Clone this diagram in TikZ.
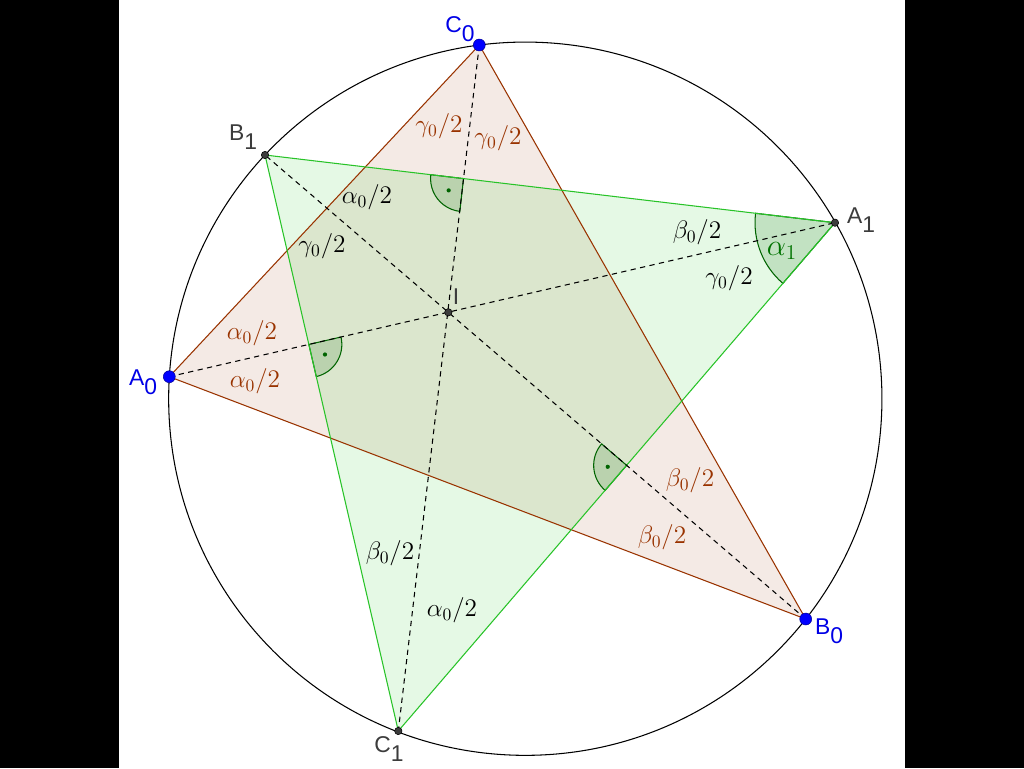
\documentclass[tikz,border=0pt]{standalone}
\usepackage{fontspec}
\newfontfamily\lblfont{Liberation Sans}
\usetikzlibrary{calc}
\definecolor{brn}{RGB}{153,51,0}
\definecolor{grn}{RGB}{0,200,0}
\definecolor{grnline}{RGB}{40,195,40}
\definecolor{dgrn}{RGB}{0,100,0}
\definecolor{agrn}{RGB}{0,115,0}
\definecolor{ptgray}{RGB}{60,60,60}
\definecolor{ptblue}{RGB}{0,0,255}
\definecolor{lblblue}{RGB}{0,0,230}
\newcommand\rmarkdraw[3]{%
  \draw[markst] let \p1=($(#2)-(#1)$), \p2=($(#3)-(#1)$),
    \n1={atan2(\y1,\x1)}, \n2={atan2(\y2,\x2)}, \n3={mod(\n2-\n1+720,360)}
    in (#1) -- ++(\n1:0.66cm) arc[start angle=\n1, delta angle=\n3, radius=0.66cm] -- cycle;
  \fill[dgrn] let \p1=($(#2)-(#1)$), \p2=($(#3)-(#1)$),
    \n1={atan2(\y1,\x1)}, \n2={atan2(\y2,\x2)}, \n3={mod(\n2-\n1+720,360)}
    in ($(#1)+({\n1+\n3/2}:0.38cm)$) circle[radius=1.2pt];
}
\begin{document}
\begin{tikzpicture}[x=0.02cm,y=-0.02cm,
  lbl/.style={font=\fontsize{14}{16}\selectfont, inner sep=0pt},
  bl/.style={lbl, text=brn},
  kl/.style={lbl, text=black},
  markst/.style={draw=dgrn, fill=dgrn, fill opacity=0.15, line width=0.6pt},
  pt/.style={inner sep=0pt, font=\lblfont\fontsize{13}{15}\selectfont},
  bisect/.style={black, line width=0.6pt, dash pattern=on 3pt off 2.5pt}]
\useasboundingbox (0,0) rectangle (1024,768);
\fill[white] (0,0) rectangle (1024,768);
\fill[black] (0,0) rectangle (119,768);
\fill[black] (905,0) rectangle (1024,768);

\coordinate (O) at (525.3,398.7);
\coordinate (C0) at (479.3,45);
\coordinate (A0) at (169.3,376.7);
\coordinate (B0) at (805.7,619);
\coordinate (A1) at (835,222.7);
\coordinate (B1) at (265,155);
\coordinate (C1) at (398.3,731);
\coordinate (I) at (448.3,312.3);

\coordinate (M1) at (intersection of A0--A1 and B1--C1);
\coordinate (M2) at (intersection of C0--C1 and B1--A1);
\coordinate (M3) at (intersection of B0--B1 and A1--C1);

% triangle fills
\fill[brn, fill opacity=0.1] (A0) -- (B0) -- (C0) -- cycle;
\fill[grn, fill opacity=0.1] (A1) -- (B1) -- (C1) -- cycle;

% right-angle marks
\rmarkdraw{M1}{C1}{I}
\rmarkdraw{M2}{B1}{I}
\rmarkdraw{M3}{I}{C1}

% angle alpha1
\draw[markst] let \p1=($(B1)-(A1)$), \p2=($(C1)-(A1)$),
    \n1={atan2(\y1,\x1)}, \n2={atan2(\y2,\x2)}, \n3={mod(\n2-\n1+720,360)}
    in (A1) -- ++(\n1:1.6cm) arc[start angle=\n1, delta angle=\n3, radius=1.6cm] -- cycle;

% triangle sides
\draw[brn, line width=0.6pt] (A0) -- (B0) -- (C0) -- cycle;
\draw[grnline, line width=0.6pt] (A1) -- (B1) -- (C1) -- cycle;

% bisectors
\draw[bisect] (A0) -- (A1);
\draw[bisect] (B0) -- (B1);
\draw[bisect] (C0) -- (C1);

% circumcircle
\draw[black, line width=0.6pt] (O) circle[radius=7.134cm];

% points
\foreach \p in {C0,A0,B0}{
  \fill[ptblue] (\p) circle[radius=3.4pt];
  \draw[blue!60!black, line width=0.3pt] (\p) circle[radius=3.4pt];
}
\foreach \p in {A1,B1,C1,I}{
  \fill[ptgray] (\p) circle[radius=2.1pt];
  \draw[black, line width=0.3pt] (\p) circle[radius=2.1pt];
}

% point labels
\node[pt, text=lblblue] (lC0) at (460,29) {C\raisebox{-0.38em}{0}};
\node[pt, text=lblblue] (lA0) at (143,382) {A\raisebox{-0.38em}{0}};
\node[pt, text=lblblue] (lB0) at (829,631) {B\raisebox{-0.38em}{0}};
\node[pt, text=ptgray] (lB1) at (243,137) {B\raisebox{-0.38em}{1}};
\node[pt, text=ptgray] (lA1) at (861,220) {A\raisebox{-0.38em}{1}};
\node[pt, text=ptgray] (lC1) at (389,749) {C\raisebox{-0.38em}{1}};
\node[pt, text=ptgray] (lI) at (456,297) {I};

% angle labels
\node[bl] (g1) at (439,126) {$\gamma_0/2$};
\node[bl] (g2) at (498,138) {$\gamma_0/2$};
\node[kl] (a1) at (367,197) {$\alpha_0/2$};
\node[kl] (g3) at (322,246) {$\gamma_0/2$};
\node[kl] (b1) at (697,232) {$\beta_0/2$};
\node[kl] (g4) at (729,278) {$\gamma_0/2$};
\node[bl] (a2) at (252,333) {$\alpha_0/2$};
\node[bl] (a3) at (255,381) {$\alpha_0/2$};
\node[bl] (b2) at (690,480) {$\beta_0/2$};
\node[bl] (b3) at (662,537) {$\beta_0/2$};
\node[kl] (b4) at (390,553) {$\beta_0/2$};
\node[kl] (a4) at (452,610) {$\alpha_0/2$};
\node[inner sep=0pt, text=agrn, font=\fontsize{18}{20}\selectfont] (al1) at (782,251) {$\alpha_1$};
\end{tikzpicture}
\end{document}
